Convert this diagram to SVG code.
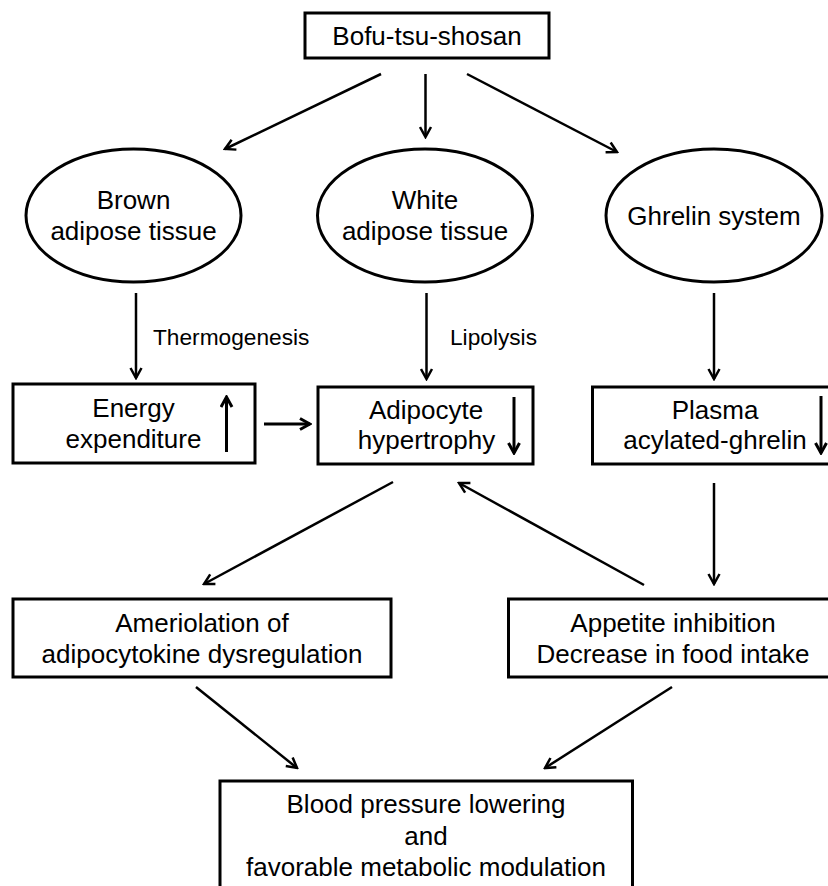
<svg xmlns="http://www.w3.org/2000/svg" width="828" height="886" viewBox="0 0 828 886">
<style>
.box{fill:#fff;stroke:#000;stroke-width:3}
.t{font-family:"Liberation Sans",Arial,sans-serif;font-size:26px;fill:#000;text-anchor:middle}
.lbl{font-family:"Liberation Sans",Arial,sans-serif;font-size:22.7px;fill:#000}
.c{fill:none;stroke:#000;stroke-width:2.5}
.c2{fill:none;stroke:#000;stroke-width:3}
</style>
<defs>
<marker id="ah" viewBox="0 0 14 14" refX="12" refY="7" markerWidth="14" markerHeight="14" orient="auto" markerUnits="userSpaceOnUse">
<path d="M2,1.5 L12,7 L2,12.5" fill="none" stroke="#000" stroke-width="2.5"/>
</marker>
<marker id="ah2" viewBox="0 0 14 14" refX="12" refY="7" markerWidth="14" markerHeight="14" orient="auto" markerUnits="userSpaceOnUse">
<path d="M2,1.5 L12,7 L2,12.5" fill="none" stroke="#000" stroke-width="3"/>
</marker>
</defs>
<rect width="828" height="886" fill="#fff"/>
<g id="connectors">
<line class="c" x1="381" y1="74" x2="225" y2="149" marker-end="url(#ah)"/>
<line class="c" x1="425.5" y1="74" x2="425.5" y2="137" marker-end="url(#ah)"/>
<line class="c" x1="467" y1="74" x2="617" y2="152" marker-end="url(#ah)"/>
<line class="c" x1="136" y1="293" x2="136" y2="378" marker-end="url(#ah)"/>
<line class="c" x1="426.5" y1="293" x2="426.5" y2="379" marker-end="url(#ah)"/>
<line class="c" x1="714" y1="293" x2="714" y2="379" marker-end="url(#ah)"/>
<line class="c2" x1="264" y1="424" x2="310" y2="424" marker-end="url(#ah2)"/>
<line class="c" x1="393" y1="482" x2="204" y2="584" marker-end="url(#ah)"/>
<line class="c" x1="644" y1="585" x2="459" y2="483" marker-end="url(#ah)"/>
<line class="c" x1="714" y1="483" x2="714" y2="584" marker-end="url(#ah)"/>
<line class="c" x1="196" y1="687" x2="297" y2="768" marker-end="url(#ah)"/>
<line class="c" x1="672" y1="687" x2="545" y2="768" marker-end="url(#ah)"/>
<text class="lbl" x="153" y="345">Thermogenesis</text>
<text class="lbl" x="450" y="345">Lipolysis</text>
</g>
<g id="bofu">
<rect class="box" x="305" y="13" width="244" height="45"/>
<text class="t" x="427" y="45">Bofu-tsu-shosan</text>
</g>
<g id="brown">
<ellipse class="box" cx="133.5" cy="215.5" rx="107.5" ry="66.5"/>
<text class="t" x="133.5" y="209">Brown</text>
<text class="t" x="133.5" y="240">adipose tissue</text>
</g>
<g id="white">
<ellipse class="box" cx="425" cy="215.5" rx="107.5" ry="66.5"/>
<text class="t" x="425" y="209">White</text>
<text class="t" x="425" y="240">adipose tissue</text>
</g>
<g id="ghrelin">
<ellipse class="box" cx="714" cy="215.5" rx="108" ry="66.5"/>
<text class="t" x="714" y="225">Ghrelin system</text>
</g>
<g id="energy">
<rect class="box" x="13" y="384" width="242" height="79"/>
<text class="t" x="133.5" y="417">Energy</text>
<text class="t" x="133.5" y="448">expenditure</text>
<line class="c2" x1="226.5" y1="452" x2="226.5" y2="397" marker-end="url(#ah2)"/>
</g>
<g id="adipocyte">
<rect class="box" x="318" y="387" width="215" height="77"/>
<text class="t" x="426" y="419">Adipocyte</text>
<text class="t" x="426.5" y="449">hypertrophy</text>
<line class="c2" x1="514" y1="397" x2="514" y2="453" marker-end="url(#ah2)"/>
</g>
<g id="plasma">
<rect class="box" x="592.5" y="387" width="245" height="77"/>
<text class="t" x="715" y="419">Plasma</text>
<text class="t" x="715" y="449">acylated-ghrelin</text>
<line class="c2" x1="821" y1="396" x2="821" y2="453" marker-end="url(#ah2)"/>
</g>
<g id="ameriolation">
<rect class="box" x="13" y="599" width="378" height="78"/>
<text class="t" x="202" y="632">Ameriolation of</text>
<text class="t" x="202" y="663">adipocytokine dysregulation</text>
</g>
<g id="appetite">
<rect class="box" x="508.5" y="599" width="330" height="78"/>
<text class="t" x="673" y="632">Appetite inhibition</text>
<text class="t" x="673" y="663">Decrease in food intake</text>
</g>
<g id="bp">
<rect class="box" x="220" y="781" width="412.5" height="120"/>
<text class="t" x="426" y="813">Blood pressure lowering</text>
<text class="t" x="426" y="845">and</text>
<text class="t" x="426" y="876">favorable metabolic modulation</text>
</g>
</svg>
